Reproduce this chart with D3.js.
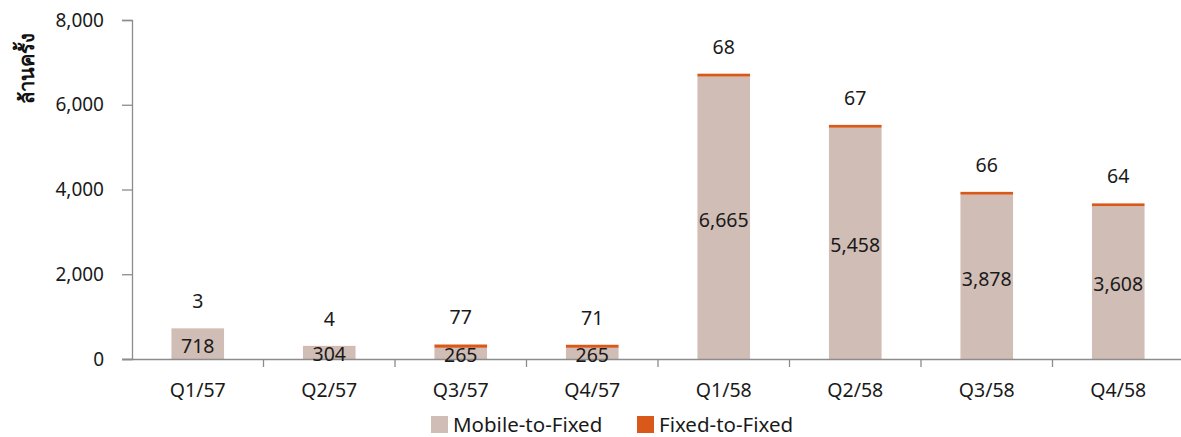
<!DOCTYPE html>
<html><head><meta charset="utf-8">
<script src="https://cdn.jsdelivr.net/npm/d3@7"></script>
<style>body{margin:0;background:#fff;font-family:"Noto Sans","DejaVu Sans",sans-serif;}</style>
</head><body><svg id="c" width="1181" height="437"></svg>
<script>
const categories = ["Q1/57","Q2/57","Q3/57","Q4/57","Q1/58","Q2/58","Q3/58","Q4/58"];
const mobileToFixed = [718,304,265,265,6665,5458,3878,3608];
const fixedToFixed = [3,4,77,71,68,67,66,64];
const seriesNames = ["Mobile-to-Fixed","Fixed-to-Fixed"];
const yTicks = [0,2000,4000,6000,8000];
const yTitle = "ล้านครั้ง";

const colors = ["#D0BDB5","#D9591B"];
const font = "Noto Sans, DejaVu Sans, sans-serif";
const textColor = "#1a1a1a";
const svg = d3.select("#c");
const x = d3.scaleBand().domain(categories).range([132,1184]).paddingInner(0.6).paddingOuter(0.3);
const y = d3.scaleLinear().domain([0,8000]).range([359,20]);
const fmt = d3.format(",");

// bars
const g = svg.append("g");
categories.forEach((c,i)=>{
  const m = mobileToFixed[i], f = fixedToFixed[i];
  g.append("rect").attr("x",x(c)).attr("width",x.bandwidth())
   .attr("y",y(m)).attr("height",y(0)-y(m)).attr("fill",colors[0]);
  g.append("rect").attr("x",x(c)).attr("width",x.bandwidth())
   .attr("y",y(m+f)).attr("height",y(m)-y(m+f)).attr("fill",colors[1]);
});

// axes
const axisColor = "#8c8c8c";
const yAxis = svg.append("g").attr("transform","translate(132,0)")
  .call(d3.axisLeft(y).tickValues(yTicks).tickFormat(fmt).tickSizeOuter(0).tickSize(10).tickPadding(18));
yAxis.select(".domain").attr("stroke",axisColor).attr("stroke-width",1.3);
yAxis.selectAll(".tick line").attr("stroke",axisColor).attr("stroke-width",1.3);
yAxis.selectAll(".tick text").attr("font-size",19).attr("fill",textColor).attr("font-family",font);

const xAxis = svg.append("g").attr("transform","translate(0,359)")
  .call(d3.axisBottom(x).tickSize(0).tickPadding(24));
xAxis.select(".domain").attr("stroke",axisColor).attr("stroke-width",1.3).attr("d","M122,0.5H1181");
xAxis.selectAll(".tick text").attr("font-size",19.5).attr("fill",textColor).attr("font-family",font);
// boundary ticks between categories
const step = x.step();
const bounds = categories.map(c=>x(c)+x.bandwidth()/2-step/2).concat([x(categories[categories.length-1])+x.bandwidth()/2+step/2]);
svg.append("g").selectAll("line").data(bounds.slice(1,-1)).join("line")
  .attr("x1",d=>d).attr("x2",d=>d).attr("y1",359).attr("y2",367)
  .attr("stroke",axisColor).attr("stroke-width",1.3);

// labels
const lab = svg.append("g").attr("font-size",19.5).attr("fill",textColor).attr("text-anchor","middle")
  .attr("font-family",font);
categories.forEach((c,i)=>{
  const m = mobileToFixed[i], f = fixedToFixed[i];
  const cx = x(c)+x.bandwidth()/2;
  lab.append("text").attr("x",cx).attr("y",(y(m)+y(0))/2).attr("dy","0.45em").text(fmt(m));
  lab.append("text").attr("x",cx).attr("y",y(m+f)-27).attr("dy","0.35em").text(fmt(f));
});

// y title
svg.append("text").attr("transform","translate(34,68) rotate(-90)").attr("text-anchor","middle")
  .attr("font-size",20).attr("font-weight","bold").attr("fill","#111").attr("font-family",font).text(yTitle);

// legend
const leg = svg.append("g");
const legX = [431,637];
seriesNames.forEach((s,i)=>{
  leg.append("rect").attr("x",legX[i]).attr("y",416).attr("width",17).attr("height",17).attr("fill",colors[i]);
  leg.append("text").attr("x",legX[i]+22).attr("y",431.5).attr("font-size",20.5).attr("font-family",font)
    .attr("fill",textColor).text(s);
});
</script></body></html>
